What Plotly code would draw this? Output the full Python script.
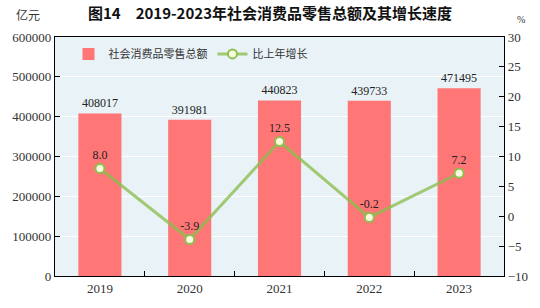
import plotly.graph_objects as go

years = ["2019", "2020", "2021", "2022", "2023"]
sales = [408017, 391981, 440823, 439733, 471495]
growth = [8.0, -3.9, 12.5, -0.2, 7.2]
left_ticks = [0, 100000, 200000, 300000, 400000, 500000, 600000]
right_ticks = [-10, -5, 0, 5, 10, 15, 20, 25, 30]

serif = "Liberation Serif, DejaVu Serif, serif"
cjk = "Noto Sans CJK SC, sans-serif"

fig = go.Figure()
fig.add_trace(go.Bar(
    x=years, y=sales, name="社会消费品零售总额",
    marker=dict(color="#ff7676", line=dict(width=0)),
    text=[str(v) for v in sales], textposition="outside",
    textfont=dict(family=serif, size=12, color="#222"),
    cliponaxis=False,
))
fig.add_trace(go.Scatter(
    x=years, y=growth, name="比上年增长", yaxis="y2",
    mode="lines+markers+text",
    line=dict(color="rgba(140,190,80,0.8)", width=3),
    marker=dict(size=9, color="#fbfbe0", line=dict(color="#8cc152", width=2)),
    text=[f"{v:.1f}" for v in growth], textposition="top center",
    textfont=dict(family=serif, size=12, color="#222"),
    cliponaxis=False,
))

fig.update_layout(
    width=540, height=308,
    margin=dict(l=55, r=35, t=37, b=30),
    paper_bgcolor="white", plot_bgcolor="#e9f2f7",
    bargap=0.52,
    showlegend=True,
    legend=dict(orientation="h", x=0.03, y=0.99, xanchor="left", yanchor="top",
                bgcolor="rgba(0,0,0,0)", font=dict(family=cjk, size=11, color="#333"),
                itemwidth=30, traceorder="normal"),
    title=dict(text="<b>图14　2019-2023年社会消费品零售总额及其增长速度</b>",
               x=0.5, xanchor="center", y=0.955, yanchor="middle",
               font=dict(family=cjk, size=15, color="#111")),
    xaxis=dict(type="category", showline=True, linecolor="#000", linewidth=1.2,
               mirror=True, ticks="inside", tickson="boundaries", ticklen=5,
               tickcolor="#000", tickfont=dict(family=serif, size=13, color="#333"),
               showgrid=False),
    yaxis=dict(range=[0, 600000], tickvals=left_ticks,
               ticktext=[str(v) for v in left_ticks], ticks="inside", ticklen=5,
               tickcolor="#000", showline=True, linecolor="#000", linewidth=1.2,
               gridcolor="white", gridwidth=1.2, zeroline=False,
               tickfont=dict(family=serif, size=13, color="#333")),
    yaxis2=dict(range=[-10, 30], tickvals=right_ticks,
                ticktext=[str(v).replace("-", "−") for v in right_ticks],
                overlaying="y", side="right",
                ticks="inside", ticklen=5, tickcolor="#000", showline=True,
                linecolor="#000", linewidth=1.2, showgrid=False, zeroline=False,
                tickfont=dict(family=serif, size=13, color="#333")),
    annotations=[
        dict(text="亿元", xref="paper", yref="paper", x=-0.06, y=1.0, yshift=12,
             xanchor="center", yanchor="bottom", showarrow=False,
             font=dict(family=cjk, size=12, color="#333")),
        dict(text="%", xref="paper", yref="paper", x=1.025, y=1.0, yshift=10,
             xanchor="left", yanchor="bottom", showarrow=False,
             font=dict(family=serif, size=10, color="#333")),
    ],
)

fig.write_html("out.html")
